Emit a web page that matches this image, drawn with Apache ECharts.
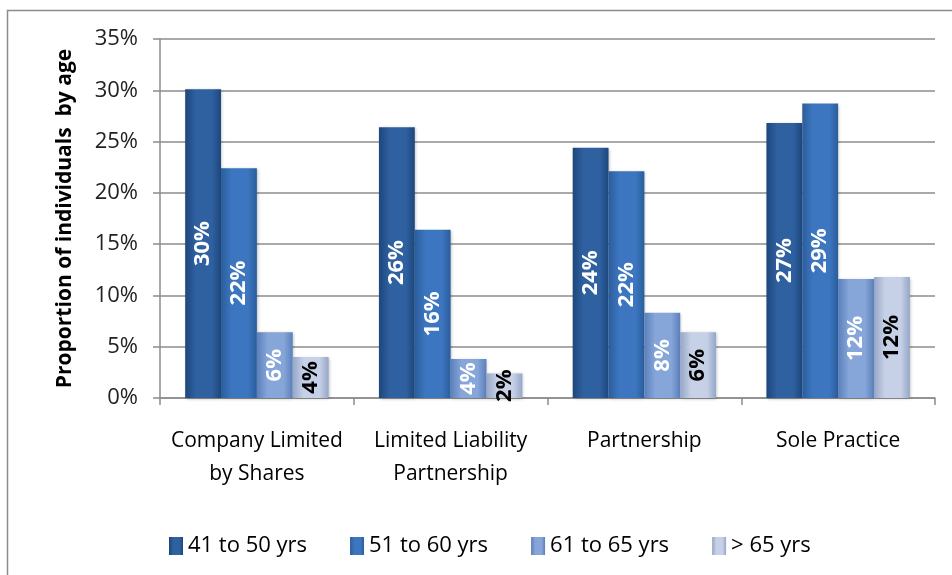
<!DOCTYPE html>
<html>
<head>
<meta charset="utf-8">
<script src="https://cdn.jsdelivr.net/npm/echarts@6/dist/echarts.min.js"></script>
<style>
html,body{margin:0;padding:0;background:#fff;}
#chart{width:952px;height:575px;}
</style>
</head>
<body>
<div id="chart"></div>
<script>
var categories=['Company Limited\nby Shares','Limited Liability\nPartnership','Partnership','Sole Practice'];
var seriesNames=['41 to 50 yrs','51 to 60 yrs','61 to 65 yrs','> 65 yrs'];
var age41to50=[30.1,26.4,24.4,26.8];
var age51to60=[22.4,16.4,22.1,28.7];
var age61to65=[6.4,3.8,8.3,11.6];
var ageOver65=[4.0,2.4,6.4,11.8];
var yTicks=[0,5,10,15,20,25,30,35];

var fontName='"Open Sans", "Noto Sans", sans-serif';
// edge / centre colours for each series, gives the bevelled look
var barColors=[
    ['#1d477c','#2f60a0'],
    ['#2a5d9c','#3d76c0'],
    ['#5a7fbb','#86a6d9'],
    ['#95a6c8','#c6d0e6']
];
var labelColors=['#fff','#fff','#fff','#000'];
function barFill(c){
    return new echarts.graphic.LinearGradient(0,0,1,0,[
        {offset:0,color:c[0]},
        {offset:0.3,color:c[1]},
        {offset:0.75,color:c[1]},
        {offset:1,color:c[0]}
    ]);
}
function makeSeries(idx,data){
    return {
        name:seriesNames[idx],
        type:'bar',
        data:data,
        barGap:'0%',
        barCategoryGap:'26%',
        itemStyle:{color:barFill(barColors[idx]),shadowColor:'rgba(0,0,0,0.25)',shadowBlur:3,shadowOffsetX:1,shadowOffsetY:1},
        label:{
            show:true,
            position:'inside',
            rotate:90,
            formatter:function(p){return Math.round(p.value)+'%';},
            color:labelColors[idx],
            fontFamily:fontName,
            fontWeight:'bold',
            fontSize:22
        }
    };
}
var chart=echarts.init(document.getElementById('chart'));
var option={
    animation:false,
    graphic:[{
        type:'rect',
        shape:{x:7.5,y:10.5,width:960,height:600},
        style:{fill:'none',stroke:'#8c8c8c',lineWidth:1.5},
        silent:true
    }],
    grid:{left:160,right:17,top:39,bottom:177,containLabel:false},
    legend:{
        bottom:13,
        left:164,
        itemWidth:14,
        itemHeight:18,
        itemGap:43,
        textStyle:{fontFamily:fontName,fontSize:22,color:'#000'},
        data:seriesNames.map(function(n,i){return {name:n,icon:'rect',itemStyle:{color:barFill(barColors[i])}};})
    },
    xAxis:{
        type:'category',
        data:categories,
        axisLine:{lineStyle:{color:'#8c8c8c',width:1.5}},
        axisTick:{show:true,length:7,alignWithLabel:false,lineStyle:{color:'#8c8c8c',width:1.5}},
        axisLabel:{fontFamily:fontName,fontSize:21,color:'#000',margin:27,lineHeight:33,interval:0}
    },
    yAxis:{
        type:'value',
        min:yTicks[0],
        max:yTicks[yTicks.length-1],
        interval:5,
        name:'Proportion of individuals  by age',
        nameLocation:'middle',
        nameGap:84,
        nameTextStyle:{fontFamily:fontName,fontSize:21,fontWeight:'bold',color:'#000'},
        axisLine:{show:true,lineStyle:{color:'#8c8c8c',width:1.5}},
        axisTick:{show:true,length:7,lineStyle:{color:'#8c8c8c',width:1.5}},
        splitLine:{show:true,lineStyle:{color:'#8c8c8c',width:1.5}},
        axisLabel:{fontFamily:fontName,fontSize:22,color:'#222',margin:22,formatter:'{value}%'}
    },
    series:[
        makeSeries(0,age41to50),
        makeSeries(1,age51to60),
        makeSeries(2,age61to65),
        makeSeries(3,ageOver65)
    ]
};
chart.setOption(option);
</script>
</body>
</html>
